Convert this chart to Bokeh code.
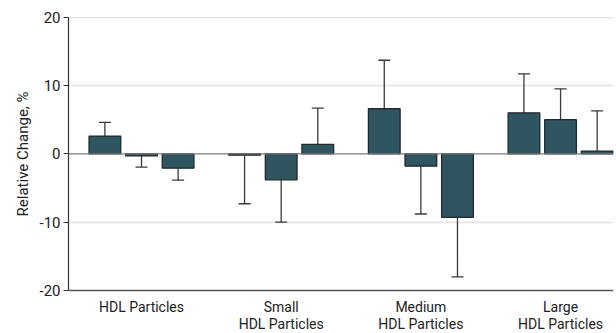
from bokeh.plotting import figure
from bokeh.models import ColumnDataSource, Range1d, FixedTicker, Span, Title
from bokeh.core.properties import value
from bokeh.embed import file_html
from bokeh.resources import INLINE

categories = ["HDL Particles", "Small\nHDL Particles", "Medium\nHDL Particles", "Large\nHDL Particles"]
series_1 = [2.6, -0.2, 6.6, 6.0]
series_1_err = [4.6, -7.3, 13.7, 11.7]
series_2 = [-0.3, -3.8, -1.8, 5.0]
series_2_err = [-1.95, -10.0, -8.8, 9.5]
series_3 = [-2.1, 1.4, -9.3, 0.4]
series_3_err = [-3.85, 6.7, -18.0, 6.3]
y_ticks = [-20, -10, 0, 10, 20]
y_tick_labels = ["-20", "-10", "0", "10", "20"]
y_label = "Relative Change, %"

FONT = "Roboto"
BAR = "#2f5561"
TXT = "#222222"

p = figure(width=616, height=333, output_backend="svg", toolbar_location=None,
           x_range=Range1d(-0.5226, 3.379), y_range=Range1d(-26.29, 20.1),
           min_border_left=68, min_border_right=3, min_border_top=16, min_border_bottom=0)
p.outline_line_color = None
p.background_fill_color = "white"

offsets = [-0.262, 0.0, 0.262]
bw = 0.227
xs_all, tops, errs = [], [], []
for off, vals, ers in zip(offsets, [series_1, series_2, series_3], [series_1_err, series_2_err, series_3_err]):
    for i, (v, e) in enumerate(zip(vals, ers)):
        xs_all.append(i + off)
        tops.append(v)
        errs.append(e)

src = ColumnDataSource(dict(x=xs_all, top=tops, err=errs, zero=[0] * len(tops)))

# grid
p.xgrid.visible = False
p.ygrid.grid_line_color = "#e4e4e4"
p.ygrid.grid_line_width = 1.5
p.ygrid.ticker = FixedTicker(ticks=[-10, 10, 20])

p.add_layout(Span(location=0, dimension="width", line_color="#7a7a7a", line_width=1.2))
p.add_layout(Span(location=-20, dimension="width", line_color="#555555", line_width=1.3))

# error bars
p.segment(x0="x", y0="top", x1="x", y1="err", source=src, line_color="#3a3a3a", line_width=1.3)
p.scatter(x="x", y="err", source=src, marker="dash", size=12, line_color="#3a3a3a", line_width=1.3)

# bars
p.vbar(x="x", top="top", bottom="zero", width=bw, source=src,
       fill_color=BAR, line_color="#1e2a2e", line_width=1.3)

# y axis
p.yaxis.ticker = FixedTicker(ticks=y_ticks)
p.yaxis.bounds = (-20, 20)
p.yaxis.major_label_overrides = {t: l for t, l in zip(y_ticks, y_tick_labels)}
p.yaxis.minor_tick_line_color = None
p.yaxis.major_tick_out = 5
p.yaxis.major_tick_in = 0
p.yaxis.axis_line_color = "#333333"
p.yaxis.axis_line_width = 1.2
p.yaxis.major_tick_line_color = "#333333"
p.yaxis.major_label_text_font = FONT
p.yaxis.major_label_text_font_size = "15px"
p.yaxis.major_label_text_color = TXT
p.yaxis.major_label_standoff = 3

ytitle = Title(text=y_label, align="right", offset=75, text_font=FONT,
               text_font_size="15px", text_font_style="normal", text_color=TXT)
p.add_layout(ytitle, "left")

p.xaxis.visible = False

# category labels below the baseline
lx, ly, lt, lo = [], [], [], []
for i, cat in enumerate(categories):
    for j, line in enumerate(cat.split("\n")):
        lx.append(i)
        ly.append(-20)
        lt.append(line)
        lo.append(8 + 17.5 * j)
lsrc = ColumnDataSource(dict(x=lx, y=ly, text=lt, off=lo))
p.text(x="x", y="y", text="text", y_offset="off", source=lsrc, text_align="center",
       text_baseline="top", text_font=value(FONT), text_font_size="14px", text_color=TXT)

open("out.html", "w").write(file_html(p, INLINE))
